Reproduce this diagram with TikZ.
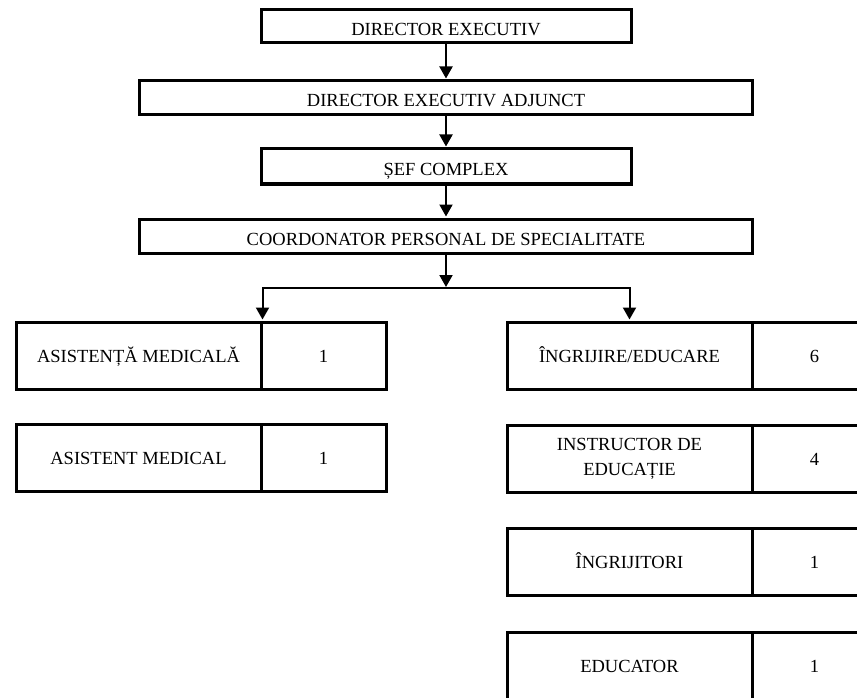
\documentclass[tikz,border=0pt]{standalone}
\usepackage{fontspec}
\setmainfont{Liberation Serif}
\usetikzlibrary{arrows.meta}
\begin{document}
\begin{tikzpicture}[x=1pt,y=-1pt,
  txt/.style={font=\fontsize{18.5}{25}\selectfont},
  box/.style={txt,draw,line width=3pt,inner sep=0pt,text height=18pt,text depth=0pt},
  cell/.style={txt,draw,line width=3pt,inner sep=0pt,minimum height=67pt,text height=13pt,text depth=0pt,align=center},
  conn/.style={line width=2pt},
  arr/.style={conn,-{Triangle[width=13pt,length=12pt]},shorten >=1pt}]
\clip (0,0) rectangle (857,698);
% top chain
\node[box,minimum width=370pt,minimum height=33pt] (de) at (446,26.5) {DIRECTOR EXECUTIV};
\node[box,minimum width=613pt,minimum height=34pt] (dea) at (446,98) {DIRECTOR EXECUTIV ADJUNCT};
\node[box,minimum width=370pt,minimum height=35pt] (sef) at (446,166.5) {ȘEF COMPLEX};
\node[box,minimum width=613pt,minimum height=34pt] (coord) at (446,236) {COORDONATOR PERSONAL DE SPECIALITATE};
% left column
\node[cell,minimum width=245pt] (l1a) at (138.5,355.5) {ASISTENȚĂ MEDICALĂ};
\node[cell,minimum width=125pt] (l1b) at (323.5,355.5) {1};
\node[cell,minimum width=245pt] (l2a) at (138.5,457.5) {ASISTENT MEDICAL};
\node[cell,minimum width=125pt] (l2b) at (323.5,457.5) {1};
% right column
\node[cell,minimum width=245pt] (r1a) at (629.5,355.5) {ÎNGRIJIRE/EDUCARE};
\node[cell,minimum width=125pt] (r1b) at (814.5,355.5) {6};
\node[cell,minimum width=245pt,text height=,text depth=] (r2a) at (629.5,458.5) {INSTRUCTOR DE\\EDUCAȚIE};
\node[cell,minimum width=125pt] (r2b) at (814.5,458.5) {4};
\node[cell,minimum width=245pt] (r3a) at (629.5,562) {ÎNGRIJITORI};
\node[cell,minimum width=125pt] (r3b) at (814.5,562) {1};
\node[cell,minimum width=245pt] (r4a) at (629.5,666) {EDUCATOR};
\node[cell,minimum width=125pt] (r4b) at (814.5,666) {1};
% connectors
\draw[arr] (de.south) -- (dea.north);
\draw[arr] (dea.south) -- (sef.north);
\draw[arr] (sef.south) -- (coord.north);
\coordinate (bm) at (446,288);
\draw[arr] (coord.south) -- (bm);
\draw[arr] (bm) -| (l1a.north east);
\draw[arr] (bm) -| (r1a.north);
\end{tikzpicture}
\end{document}
